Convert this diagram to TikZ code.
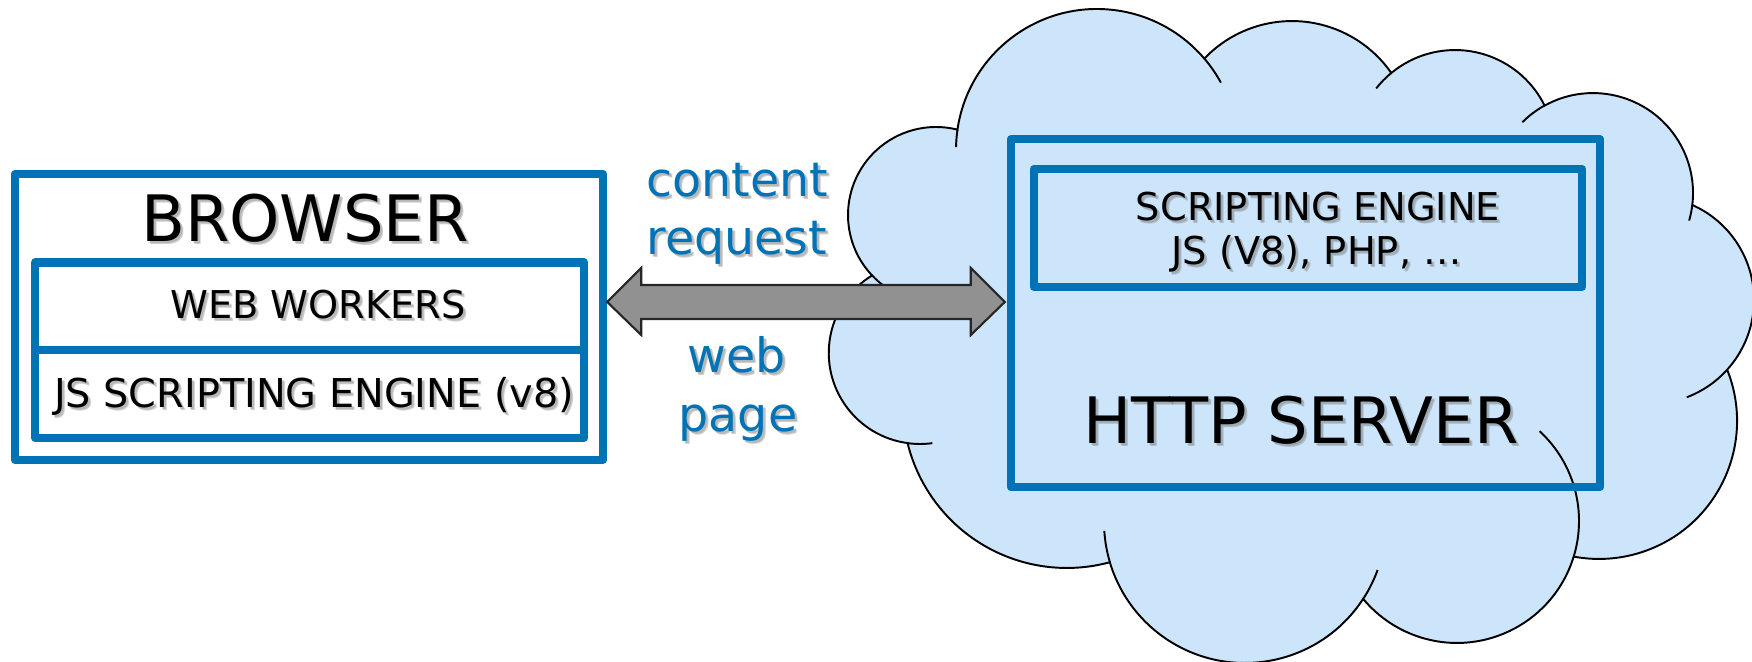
\documentclass[tikz,border=0pt]{standalone}
\usepackage{fontspec}
\setmainfont{DejaVu Sans}
\usetikzlibrary{calc}

\definecolor{boxblue}{RGB}{0,115,182}
\definecolor{cloudfill}{RGB}{204,229,250}
\definecolor{arrowgray}{RGB}{145,145,145}

% text with a soft grey drop shadow: name, base position, style, text
\newcommand{\shadowedlabel}[4]{%
  \node[#3, anchor=base, text=black!55, text opacity=0.35] at ($(#2)+(3,3)$) {#4};
  \node[#3, anchor=base, text=black!55, text opacity=0.25] at ($(#2)+(2,2)$) {#4};
  \node[#3, anchor=base] (#1) at (#2) {#4};
}

\begin{document}
\begin{tikzpicture}[x=0.01cm, y=-0.01cm,
  blueframe/.style={draw=boxblue, line width=2.3pt, line join=round, inner sep=0pt},
  cloudline/.style={draw=black, line width=0.55pt},
  arrowbody/.style={draw=black!85, line width=0.6pt, fill=arrowgray, line join=miter},
  bigtext/.style={font=\fontsize{18.2}{22}\selectfont, text=black, inner sep=0pt},
  smalltext/.style={font=\fontsize{10.9}{13}\selectfont, text=black, inner sep=0pt},
  widetext/.style={font=\fontsize{11.3}{13}\selectfont, text=black, inner sep=0pt},
  linktext/.style={font=\fontsize{13.5}{16}\selectfont, text=boxblue, inner sep=0pt},
]
\useasboundingbox (0,0) rectangle (1752,662);

% ---- cloud: eleven circular bumps ----
\coordinate (c1) at (936,215);
\coordinate (c2) at (1097,150);
\coordinate (c3) at (1292,142);
\coordinate (c4) at (1455,150);
\coordinate (c5) at (1593,193);
\coordinate (c6) at (1650,300);
\coordinate (c7) at (1599,421);
\coordinate (c8) at (1457,521);
\coordinate (c9) at (1245,522);
\coordinate (c10) at (1067,404);
\coordinate (c11) at (920,353);

\path[cloudline, fill=cloudfill] ($(c1)+(136.5:88)$)
  arc[start angle=136.5, end angle=284.1, radius=88]
  arc[start angle=188.3, end angle=319.6, radius=141]
  arc[start angle=223.6, end angle=325.2, radius=121]
  arc[start angle=230.4, end angle=333.6, radius=100]
  arc[start angle=241.05, end angle=366.83, radius=100]
  arc[start angle=294, end angle=402.1, radius=104]
  arc[start angle=-21.8, end angle=100.6, radius=138]
  arc[start angle=17, end angle=140.3, radius=122]
  arc[start angle=33.05, end angle=163.4, radius=141]
  arc[start angle=74.8, end angle=166.2, radius=164]
  arc[start angle=97.7, end angle=238.3, radius=91]
  -- cycle;

% short inner strokes where the bumps meet
\foreach \cc/\rr/\aa/\bb in {c1/88/125/136.5, c2/141/181.2/188.3, c2/141/319.6/331.5,
    c4/100/218/230.4, c5/100/225/241.05, c5/100/366.83/376, c6/104/402.1/429.3,
    c8/122/-47.4/17, c9/141/19.9/33.05, c9/141/163.4/176.4, c11/91/82.2/97.7}
  \draw[cloudline] ($(\cc)+(\aa:\rr)$) arc[start angle=\aa, end angle=\bb, radius=\rr];

% ---- browser side ----
\node[blueframe, minimum width=5.88cm, minimum height=2.855cm] (browser) at (309,316.75) {};
\node[blueframe, minimum width=5.485cm, minimum height=0.875cm] (workers) at (309.75,306.25) {};
\node[blueframe, minimum width=5.485cm, minimum height=0.88cm] (engine) at (309.75,394) {};

\shadowedlabel{lblbrowser}{305,242}{bigtext}{BROWSER}
\shadowedlabel{lblworkers}{318,319}{smalltext}{WEB WORKERS}
\shadowedlabel{lblengine}{314,408}{widetext}{JS SCRIPTING ENGINE (v8)}

% ---- server side ----
\node[blueframe, minimum width=5.89cm, minimum height=3.475cm] (server) at (1305.5,313.25) {};
\node[blueframe, minimum width=5.48cm, minimum height=1.18cm] (scripting) at (1308,228) {};

\shadowedlabel{lblscripting}{1318,221}{smalltext}{SCRIPTING ENGINE}
\shadowedlabel{lbllangs}{1316.5,265}{smalltext}{JS (V8), PHP, …}
\shadowedlabel{lblserver}{1301,444}{bigtext}{HTTP SERVER}

% ---- exchange labels ----
\shadowedlabel{lblcontent}{737,196.7}{linktext}{content}
\shadowedlabel{lblrequest}{737,255}{linktext}{request}
\shadowedlabel{lblweb}{737,373}{linktext}{web}
\shadowedlabel{lblpage}{738,431.7}{linktext}{page}

% ---- double arrow between browser and server ----
\coordinate (tipL) at ($(browser.east)+(0,-14.75)$);
\coordinate (tipR) at ($(server.west)+(-2,-11.25)$);
\draw[arrowbody] (tipL) -- ++(34,-34) -- ++(0,17) -- ($(tipR)+(-34,-17)$) -- ++(0,-17)
  -- (tipR) -- ++(-34,33) -- ++(0,-16) -- ($(tipL)+(34,17)$) -- ++(0,16) -- cycle;
\end{tikzpicture}
\end{document}
